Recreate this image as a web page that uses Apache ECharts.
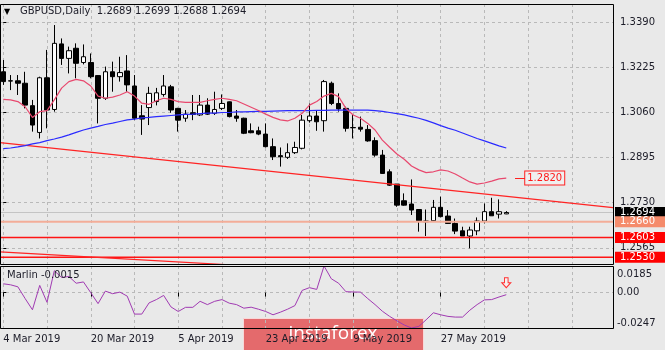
<!DOCTYPE html>
<html>
<head>
<meta charset="utf-8">
<script src="https://cdn.jsdelivr.net/npm/echarts@6/dist/echarts.min.js"></script>
<style>
  html, body { margin: 0; padding: 0; background: #e9e9e9; }
  #chart { width: 665px; height: 350px; }
</style>
</head>
<body>
<div id="chart"></div>
<script>
// GBPUSD daily bars, 4 Mar 2019 - 7 Jun 2019
const dates = [
  '2019-03-04','2019-03-05','2019-03-06','2019-03-07','2019-03-08',
  '2019-03-11','2019-03-12','2019-03-13','2019-03-14','2019-03-15',
  '2019-03-18','2019-03-19','2019-03-20','2019-03-21','2019-03-22',
  '2019-03-25','2019-03-26','2019-03-27','2019-03-28','2019-03-29',
  '2019-04-01','2019-04-02','2019-04-03','2019-04-04','2019-04-05',
  '2019-04-08','2019-04-09','2019-04-10','2019-04-11','2019-04-12',
  '2019-04-15','2019-04-16','2019-04-17','2019-04-18','2019-04-19',
  '2019-04-22','2019-04-23','2019-04-24','2019-04-25','2019-04-26',
  '2019-04-29','2019-04-30','2019-05-01','2019-05-02','2019-05-03',
  '2019-05-06','2019-05-07','2019-05-08','2019-05-09','2019-05-10',
  '2019-05-13','2019-05-14','2019-05-15','2019-05-16','2019-05-17',
  '2019-05-20','2019-05-21','2019-05-22','2019-05-23','2019-05-24',
  '2019-05-27','2019-05-28','2019-05-29','2019-05-30','2019-05-31',
  '2019-06-03','2019-06-04','2019-06-05','2019-06-06','2019-06-07'
];
const opens = [
  1.3209,1.3176,1.3176,1.3167,1.3085,1.2987,1.3187,1.3071,1.3311,1.3258,
  1.3295,1.3243,1.3243,1.3195,1.3112,1.3209,1.3191,1.3212,1.3157,1.3048,
  1.3078,1.3100,1.3126,1.3154,1.3075,1.3039,1.3059,1.3051,1.3087,1.3057,
  1.3075,1.3099,1.3047,1.3039,1.2993,1.2993,1.2981,1.2935,1.2902,1.2896,
  1.2913,1.2929,1.3030,1.3047,1.3030,1.3167,1.3093,1.3075,1.3005,1.3006,
  1.2998,1.2957,1.2904,1.2843,1.2798,1.2737,1.2725,1.2705,1.2663,1.2664,
  1.2713,1.2681,1.2654,1.2627,1.2608,1.2627,1.2663,1.2697,1.2688,1.2689
];
const highs = [
  1.3252,1.3197,1.3197,1.3209,1.3106,1.3191,1.3289,1.3380,1.3331,1.3301,
  1.3313,1.3309,1.3276,1.3197,1.3228,1.3246,1.3264,1.3270,1.3197,1.3087,
  1.3154,1.3150,1.3197,1.3161,1.3077,1.3069,1.3124,1.3124,1.3112,1.3136,
  1.3126,1.3100,1.3069,1.3041,1.3020,1.3008,1.3020,1.2965,1.2932,1.2947,
  1.2953,1.3051,1.3093,1.3069,1.3179,1.3173,1.3130,1.3081,1.3051,1.3045,
  1.3014,1.2969,1.2923,1.2852,1.2798,1.2764,1.2815,1.2705,1.2705,1.2740,
  1.2752,1.2703,1.2672,1.2642,1.2642,1.2676,1.2727,1.2748,1.2742,1.2699
];
const lows = [
  1.3161,1.3142,1.3124,1.3075,1.2990,1.2965,1.3002,1.3063,1.3234,1.3203,
  1.3185,1.3236,1.3185,1.3020,1.3106,1.3136,1.3173,1.3136,1.3032,1.2978,
  1.3014,1.3086,1.3118,1.3059,1.2990,1.3026,1.3032,1.3047,1.3051,1.3051,
  1.3069,1.3042,1.3026,1.2981,1.2984,1.2977,1.2932,1.2886,1.2862,1.2890,
  1.2908,1.2925,1.3023,1.2993,1.2990,1.3087,1.3063,1.2990,1.2965,1.2990,
  1.2953,1.2898,1.2835,1.2791,1.2715,1.2719,1.2685,1.2624,1.2608,1.2660,
  1.2676,1.2652,1.2615,1.2608,1.2563,1.2611,1.2654,1.2682,1.2672,1.2688
];
const closes = [
  1.3173,1.3175,1.3167,1.3087,1.3014,1.3187,1.3069,1.3313,1.3258,1.3286,
  1.3240,1.3264,1.3191,1.3112,1.3209,1.3191,1.3206,1.3161,1.3039,1.3036,
  1.3130,1.3132,1.3157,1.3069,1.3032,1.3054,1.3053,1.3087,1.3054,1.3071,
  1.3093,1.3045,1.3039,1.2984,1.2986,1.2981,1.2935,1.2898,1.2898,1.2913,
  1.2932,1.3032,1.3047,1.3026,1.3173,1.3093,1.3073,1.3002,1.3004,1.2999,
  1.2956,1.2904,1.2837,1.2794,1.2721,1.2721,1.2703,1.2664,1.2660,1.2713,
  1.2679,1.2654,1.2626,1.2608,1.2630,1.2663,1.2697,1.2682,1.2697,1.2694
];
// fast (red) and slow (blue) moving averages
const maFast = [
  1.3108,1.3106,1.3100,1.3081,1.3042,1.3063,1.3067,1.3106,1.3149,1.3173,
  1.3181,1.3176,1.3157,1.3120,1.3112,1.3116,1.3124,1.3136,1.3120,1.3094,
  1.3090,1.3103,1.3112,1.3108,1.3100,1.3097,1.3097,1.3097,1.3103,1.3108,
  1.3112,1.3108,1.3103,1.3091,1.3079,1.3067,1.3054,1.3042,1.3033,1.3029,
  1.3039,1.3057,1.3087,1.3100,1.3120,1.3130,1.3118,1.3075,1.3051,1.3039,
  1.3020,1.2996,1.2959,1.2933,1.2908,1.2889,1.2864,1.2850,1.2840,1.2843,
  1.2850,1.2846,1.2835,1.2820,1.2806,1.2798,1.2802,1.2809,1.2817,1.2820
];
const maSlow = [
  1.2928,1.2930,1.2934,1.2939,1.2945,1.2950,1.2957,1.2963,1.2970,1.2978,
  1.2987,1.2996,1.3003,1.3009,1.3016,1.3021,1.3027,1.3033,1.3036,1.3040,
  1.3042,1.3045,1.3047,1.3049,1.3051,1.3053,1.3054,1.3056,1.3058,1.3058,
  1.3060,1.3060,1.3062,1.3062,1.3063,1.3064,1.3064,1.3065,1.3066,1.3067,
  1.3067,1.3067,1.3067,1.3068,1.3068,1.3069,1.3069,1.3069,1.3069,1.3069,
  1.3069,1.3067,1.3064,1.3060,1.3056,1.3051,1.3045,1.3039,1.3031,1.3022,
  1.3012,1.3003,1.2995,1.2985,1.2975,1.2965,1.2956,1.2947,1.2938,1.2930
];
// Marlin oscillator
const marlin = [
  0.0061,0.0054,0.0040,-0.0042,-0.0120,0.0050,-0.0068,0.0152,0.0105,0.0112,
  0.0065,0.0074,-0.0001,-0.0077,0.0010,-0.0008,0.0003,-0.0025,-0.0150,-0.0150,
  -0.0072,-0.0049,-0.0020,-0.0100,-0.0132,-0.0103,-0.0103,-0.0061,-0.0084,-0.0061,
  -0.0049,-0.0074,-0.0084,-0.0109,-0.0102,-0.0116,-0.0132,-0.0155,-0.0137,-0.0116,
  -0.0091,0.0015,0.0034,0.0022,0.0185,0.0096,0.0065,0.0006,0.0004,0.0003,
  -0.0042,-0.0084,-0.0130,-0.0166,-0.0197,-0.0226,-0.0247,-0.0236,-0.0190,-0.0141,
  -0.0155,-0.0166,-0.0171,-0.0171,-0.0123,-0.0084,-0.0051,-0.0049,-0.0031,-0.0015
];
// axis ticks
const priceTicks = [1.2565, 1.2730, 1.2895, 1.3060, 1.3225, 1.3390];
const marlinTicks = [-0.0247, 0, 0.0185];
const dateLabelBars = [0, 12, 24, 36, 48, 60];
const gridBars = [0, 6, 12, 18, 24, 30, 36, 42, 48, 54, 60, 66, 72, 78];
// drawn trend lines (bar index, price)
const trendBars = [-0.45, 83.64];
const trendPrices = [1.2950, 1.2712];
const lowerBars = [-0.45, 40];
const lowerPrices = [1.2550, 1.2489];
// horizontal levels: bid, support zone, supports
const levelPrices = [1.2694, 1.2660, 1.2603, 1.2530];
const levelLineColors = ['#c4c4c4', '#f3ad98', '#ff1414', '#ff1414'];
const levelLineWidths = [1, 2, 1.5, 1.5];
const levelBoxColors = ['#000000', '#f58b6b', '#ff0000', '#ff0000'];

const X_MIN = -0.45, X_MAX = 83.64;
const FONT = 'DejaVu Sans';
const TEXT = '#1c1c28';
const MON = ['Jan','Feb','Mar','Apr','May','Jun','Jul','Aug','Sep','Oct','Nov','Dec'];
function fmtDate(s) {
  const [y, m, d] = s.split('-').map(Number);
  return d + ' ' + MON[m - 1] + ' ' + y;
}

const candles = opens.map((o, i) => [i, o, closes[i], lows[i], highs[i]]);
const pair = arr => arr.map((v, i) => [i, v]);
const last = opens.length - 1;

const dashed = { show: true, lineStyle: { color: '#b9b9b9', type: [3, 3], width: 1 } };

// one full-width horizontal line per level, with its price box at the right end
const levelSeries = levelPrices.map((p, i) => ({
  name: 'level ' + p, type: 'line', xAxisIndex: 0, yAxisIndex: 0, clip: false,
  data: [[X_MIN, p], [X_MAX, p]], symbol: 'none', z: i === 0 ? 1 : 3,
  lineStyle: { color: levelLineColors[i], width: levelLineWidths[i] },
  endLabel: {
    show: true, distance: 2, color: '#ffffff', backgroundColor: levelBoxColors[i],
    fontFamily: FONT, fontSize: 10, lineHeight: 11, padding: [0, 10, 0, 5],
    formatter: () => p.toFixed(4)
  }
}));

const chart = echarts.init(document.getElementById('chart'), null, { renderer: 'canvas' });
chart.setOption({
  animation: false,
  backgroundColor: '#e9e9e9',
  textStyle: { fontFamily: FONT },
  grid: [
    { left: 0, top: 4, width: 613, height: 260, outerBoundsMode: 'none' },
    { left: 0, top: 266, width: 613, height: 62, outerBoundsMode: 'none' }
  ],
  xAxis: [
    { type: 'value', gridIndex: 0, min: X_MIN, max: X_MAX,
      axisLine: { show: false }, axisLabel: { show: false },
      axisTick: { show: false, customValues: gridBars },
      splitLine: dashed },
    { type: 'value', gridIndex: 1, min: X_MIN, max: X_MAX, position: 'bottom',
      axisLine: { show: false },
      axisTick: { show: true, length: 4, customValues: dateLabelBars, lineStyle: { color: '#000' } },
      axisLabel: { customValues: dateLabelBars, align: 'left', margin: 6,
        color: TEXT, fontFamily: FONT, fontSize: 10,
        formatter: v => fmtDate(dates[v]) },
      splitLine: { show: false } },
    { type: 'value', gridIndex: 1, min: X_MIN, max: X_MAX, position: 'top',
      axisLine: { show: false }, axisLabel: { show: false },
      axisTick: { show: false, customValues: gridBars },
      splitLine: dashed }
  ],
  yAxis: [
    { type: 'value', gridIndex: 0, position: 'right', min: 1.250562, max: 1.345696,
      axisLine: { show: false },
      axisTick: { show: true, length: 3, customValues: priceTicks, lineStyle: { color: '#000' } },
      axisLabel: { customValues: priceTicks, margin: 7, color: TEXT, fontFamily: FONT, fontSize: 10,
        formatter: v => v.toFixed(4) },
      splitLine: dashed },
    { type: 'value', gridIndex: 1, position: 'right', min: -0.0247, max: 0.0185,
      axisLine: { show: false },
      axisTick: { show: true, length: 3, customValues: marlinTicks, lineStyle: { color: '#000' } },
      axisLabel: { customValues: marlinTicks, margin: 4, color: TEXT, fontFamily: FONT, fontSize: 10,
        verticalAlignMinLabel: 'bottom', verticalAlignMaxLabel: 'top', padding: [3, 0, 0, 0],
        formatter: v => (v === 0 ? '0.00' : v.toFixed(4)) },
      splitLine: dashed }
  ],
  series: levelSeries.concat([
    {
      name: 'GBPUSD', type: 'candlestick', xAxisIndex: 0, yAxisIndex: 0,
      data: candles, barWidth: 5, z: 2,
      itemStyle: { color: '#ffffff', color0: '#000000', borderColor: '#000000', borderColor0: '#000000', borderWidth: 1 }
    },
    {
      name: 'trend', type: 'line', xAxisIndex: 0, yAxisIndex: 0, clip: true,
      data: trendBars.map((b, i) => [b, trendPrices[i]]),
      symbol: 'none', lineStyle: { color: '#ff2424', width: 1.2 }, z: 3
    },
    {
      name: 'channel', type: 'line', xAxisIndex: 0, yAxisIndex: 0, clip: true,
      data: lowerBars.map((b, i) => [b, lowerPrices[i]]),
      symbol: 'none', lineStyle: { color: '#ff2424', width: 1.2 }, z: 3
    },
    {
      name: 'MA slow', type: 'line', xAxisIndex: 0, yAxisIndex: 0,
      data: pair(maSlow), symbol: 'none', lineStyle: { color: '#2b2bff', width: 1.2 }, z: 3
    },
    {
      name: 'MA fast', type: 'line', xAxisIndex: 0, yAxisIndex: 0,
      data: pair(maFast), symbol: 'none', lineStyle: { color: '#e8486e', width: 1.2 }, z: 3,
      markLine: {
        silent: true, symbol: ['none', 'none'], animation: false, precision: 4,
        lineStyle: { color: '#ff2020', width: 1, type: 'solid' },
        data: [[{ coord: [last + 1.2, maFast[last]] }, { coord: [last + 2.6, maFast[last]] }]],
        label: {
          show: true, position: 'end', distance: 0, color: '#ff1a1a',
          fontFamily: FONT, fontSize: 10, lineHeight: 12,
          backgroundColor: '#efefef', borderColor: '#ff2020', borderWidth: 1, padding: [1, 2, 0, 2],
          formatter: () => maFast[last].toFixed(4)
        }
      }
    },
    {
      name: 'Marlin', type: 'line', xAxisIndex: 1, yAxisIndex: 1,
      data: pair(marlin), symbol: 'none', lineStyle: { color: '#a03ab2', width: 1 },
      markPoint: {
        silent: true, animation: false,
        data: [{ coord: [last, marlin[last]] }],
        symbol: 'path://M3,0H7V5H10L5,10L0,5H3Z', symbolSize: [9, 10], symbolOffset: [0, -12],
        itemStyle: { color: '#f7f0f0', borderColor: '#ff3030', borderWidth: 1 },
        label: { show: false }
      }
    }
  ]),
  graphic: [
    { type: 'rect', z: 100, silent: true, shape: { x: 0.5, y: 4.5, width: 613, height: 260 },
      style: { fill: null, stroke: '#000', lineWidth: 1 } },
    { type: 'rect', z: 100, silent: true, shape: { x: 0.5, y: 266.5, width: 613, height: 62 },
      style: { fill: null, stroke: '#000', lineWidth: 1 } },
    { type: 'text', z: 100, left: 4, top: 8,
      style: { text: '\u25BC', font: '8px "DejaVu Sans"', fill: '#000' } },
    { type: 'text', z: 100, left: 20, top: 6,
      style: { text: 'GBPUSD,Daily  ' + [opens[last], highs[last], lows[last], closes[last]].map(v => v.toFixed(4)).join(' '),
        font: '10px "DejaVu Sans"', fill: TEXT } },
    { type: 'text', z: 100, left: 7, top: 270,
      style: { text: 'Marlin ' + marlin[last].toFixed(4), font: '10px "DejaVu Sans"', fill: TEXT } },
    { type: 'group', z: 120, left: 243, top: 318, children: [
      { type: 'rect', shape: { x: 0.5, y: 0.5, width: 180, height: 34 },
        style: { fill: '#e46a6c', stroke: '#f8d8d8', lineWidth: 1 } },
      { type: 'text', style: { text: 'instaforex', x: 90, y: 16, align: 'center', verticalAlign: 'middle',
        font: '19px "Open Sans"', fill: '#ffffff' } }
    ] }
  ]
});
</script>
</body>
</html>
